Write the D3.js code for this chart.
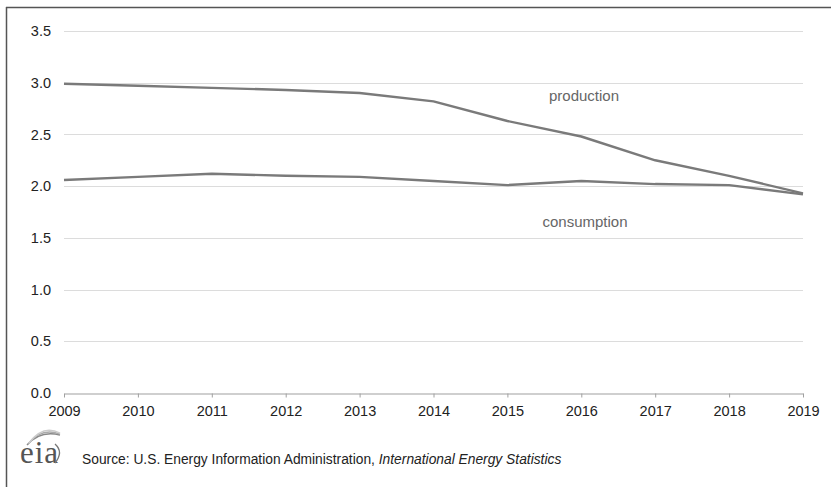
<!DOCTYPE html>
<html><head><meta charset="utf-8">
<script src="https://cdn.jsdelivr.net/npm/d3@7"></script>
<style>body{margin:0;background:#fff}svg{display:block}</style>
</head><body>
<svg id="c" width="831" height="487"></svg>
<script>
const years = [2009,2010,2011,2012,2013,2014,2015,2016,2017,2018,2019];
const production = [2.99,2.97,2.95,2.93,2.90,2.82,2.63,2.48,2.25,2.10,1.93];
const consumption = [2.06,2.09,2.12,2.10,2.09,2.05,2.01,2.05,2.02,2.01,1.92];
const yTicks = [0,0.5,1.0,1.5,2.0,2.5,3.0,3.5];
const seriesLabels = ["production","consumption"];
const sourceText = "Source: U.S. Energy Information Administration, ";
const sourceItalic = "International Energy Statistics";

const svg = d3.select("#c");
const font = "'Liberation Sans', Arial, sans-serif";
// frame
svg.append("line").attr("x1",6).attr("x2",831).attr("y1",7.5).attr("y2",7.5).attr("stroke","#555").attr("stroke-width",1.5);
svg.append("line").attr("x1",6.5).attr("x2",6.5).attr("y1",7).attr("y2",487).attr("stroke","#555").attr("stroke-width",1.5);

const x = d3.scaleLinear().domain([2009,2019]).range([64,803]);
const y = d3.scaleLinear().domain([0,3.5]).range([393,31]);

// grid
svg.append("g").selectAll("line").data(yTicks.filter(d=>d>0)).join("line")
  .attr("x1",64).attr("x2",803).attr("y1",d=>Math.round(y(d))+0.5).attr("y2",d=>Math.round(y(d))+0.5)
  .attr("stroke","#dcdcdc").attr("stroke-width",1.2);

// y labels
svg.append("g").selectAll("text").data(yTicks).join("text")
  .attr("x",51).attr("y",d=>y(d)).attr("dy","0.35em").attr("text-anchor","end")
  .attr("font-family",font).attr("font-size",14.5).attr("fill","#222")
  .text(d=>d.toFixed(1));

// x axis
const xAxis = d3.axisBottom(x).tickValues(years).tickFormat(d3.format("d")).tickSize(4).tickSizeOuter(0);
const gx = svg.append("g").attr("transform",`translate(0,${Math.round(y(0))+0.5})`).call(xAxis);
gx.select(".domain").attr("stroke","#a0a0a0").attr("stroke-width",1.2);
gx.selectAll(".tick line").attr("stroke","#a0a0a0");
gx.selectAll(".tick text").attr("font-family",font).attr("font-size",14.5).attr("fill","#222").attr("dy","0.35em").attr("y",17);

// lines
const line = d3.line().x((d,i)=>x(years[i])).y(d=>y(d));
[production, consumption].forEach(s=>{
  svg.append("path").datum(s).attr("d",line).attr("fill","none")
    .attr("stroke","#7a7a7a").attr("stroke-width",2.4).attr("stroke-linejoin","round");
});

// series labels
svg.append("text").attr("x",584).attr("y",101).attr("text-anchor","middle")
  .attr("font-family",font).attr("font-size",15).attr("fill","#666").text(seriesLabels[0]);
svg.append("text").attr("x",585).attr("y",227).attr("text-anchor","middle")
  .attr("font-family",font).attr("font-size",15).attr("fill","#666").text(seriesLabels[1]);

// eia logo
const logo = svg.append("g");
logo.append("text").attr("x",20).attr("y",463).attr("font-family","'Liberation Serif','DejaVu Serif',serif")
  .attr("font-size",31).attr("fill","#555").attr("textLength",38).text("eia");
[[0,"#888"],[3,"#aaa"],[6,"#ccc"]].forEach(([o,c])=>{
  logo.append("path").attr("d",`M${27+o*0.3},${445-o*0.3} Q${40+o*0.5},${430-o} ${60},${435-o*0.3}`)
    .attr("fill","none").attr("stroke",c).attr("stroke-width",1.4);
});
logo.append("path").attr("d","M55,444 Q64,452 55,463").attr("fill","none").attr("stroke","#777").attr("stroke-width",1.3);

const src = svg.append("text").attr("x",82).attr("y",464).attr("font-family",font).attr("font-size",13.8).attr("fill","#222");
src.append("tspan").text(sourceText);
src.append("tspan").attr("font-style","italic").text(sourceItalic);
</script>
</body></html>
